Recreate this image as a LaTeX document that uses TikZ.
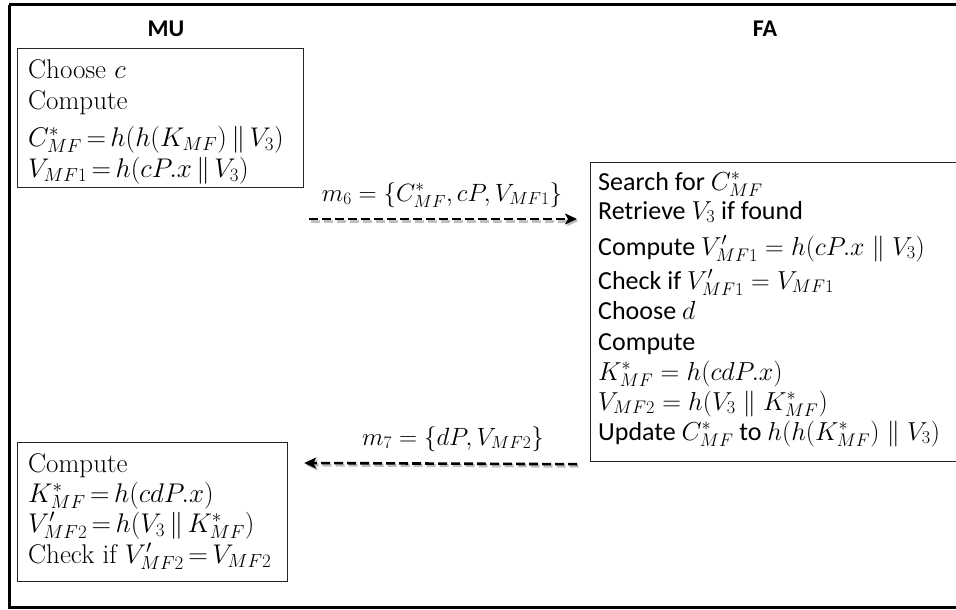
\documentclass[tikz,border=0pt]{standalone}
\usepackage{fix-cm}
\usepackage{fontspec}
\newfontfamily\calibri{Carlito}
\usetikzlibrary{arrows.meta,calc}
\newcommand\tightrel{\thickmuskip=3mu plus 2mu\relax}
\begin{document}
\begin{tikzpicture}[x=1pt,y=-1pt,
  frame/.style={draw=black,line width=3pt},
  box/.style={draw=black!85,line width=1.2pt,inner sep=0pt,anchor=north west},
  mul/.style={anchor=base west,inner sep=0pt,font=\fontsize{27}{30}\selectfont\tightrel},
  fal/.style={anchor=base west,inner sep=0pt,font=\calibri\fontsize{26}{30}\selectfont},
  head/.style={font=\calibri\bfseries\fontsize{24}{26}\selectfont,inner sep=0pt},
  msg/.style={dashed,dash pattern=on 9pt off 4pt,line width=2.6pt,-{Stealth[length=12pt,width=11pt,inset=3pt]}},
  msgshadow/.style={dashed,dash pattern=on 9pt off 4pt,line width=3pt,draw=black!25,-{Stealth[length=12pt,width=11pt,inset=3pt]}},
  lbl/.style={inner sep=0pt,font=\fontsize{25}{28}\selectfont}
]
\useasboundingbox (0,0) rectangle (956,610);
% outer frame
\draw[frame] (9,5) -- (970,5) (9,5) -- (9,607) -- (970,607);
% headers
\node[head] (mu) at (166,29) {MU};
\node[head] (fa) at (765,29) {FA};
% boxes
\node[box,minimum width=286pt,minimum height=139pt] (mubox) at (17,48) {};
\node[box,minimum width=380pt,minimum height=299pt] (fabox) at (590,162) {};
\node[box,minimum width=270pt,minimum height=139pt] (mubox2) at (17,442) {};
% MU top box
\node[mul] (u1) at (28,78) {Choose $c$};
\node[mul] (u2) at (28,110) {Compute};
\node[mul] (u3) at (28,146) {$C^*_{MF}=h(h(K_{MF})\parallel V_3)$};
\node[mul] (u4) at (28,177) {$V_{MF1}=h(cP.x\parallel V_3)$};
% FA box
\node[fal] (f1) at (598,190) {Search for $C^*_{MF}$};
\node[fal] (f2) at (598,219) {Retrieve $V_3$ if found};
\node[fal] (f3) at (598,255) {Compute $V'_{MF1}=h(cP.x\parallel V_3)$};
\node[fal] (f4) at (598,289) {Check if $V'_{MF1}=V_{MF1}$};
\node[fal] (f5) at (598,319) {Choose $d$};
\node[fal] (f6) at (598,350) {Compute};
\node[fal] (f7) at (598,380) {$K^*_{MF}=h(cdP.x)$};
\node[fal] (f8) at (598,410) {$V_{MF2}=h(V_3\parallel K^*_{MF})$};
\node[fal] (f9) at (598,440) {Update $C^*_{MF}$ to $h(h(K^*_{MF})\parallel V_3)$};
% MU bottom box
\node[mul] (b1) at (28,472) {Compute};
\node[mul] (b2) at (28,502) {$K^*_{MF}=h(cdP.x)$};
\node[mul] (b3) at (28,532) {$V'_{MF2}=h(V_3\parallel K^*_{MF})$};
\node[mul] (b4) at (28,563) {Check if $V'_{MF2}=V_{MF2}$};
% messages
\coordinate (a6s) at ($(mubox.north east)+(5,171)$);
\coordinate (a6e) at ($(fabox.north west)+(-13,57)$);
\coordinate (a7s) at ($(fabox.south west)+(-13,2)$);
\coordinate (a7e) at ($(mubox2.north east)+(16,21)$);
\draw[msgshadow] ($(a6s)+(1.5,2)$) -- ($(a6e)+(1.5,2)$);
\draw[msg] (a6s) -- (a6e);
\draw[msgshadow] ($(a7s)+(1.5,2)$) -- ($(a7e)+(1.5,2)$);
\draw[msg] (a7s) -- (a7e);
\node[lbl,anchor=base] (m6) at (442,201) {$m_6=\{C^*_{MF},cP,V_{MF1}\}$};
\node[lbl,anchor=base] (m7) at (453,445) {$m_7=\{dP,V_{MF2}\}$};
\end{tikzpicture}
\end{document}
